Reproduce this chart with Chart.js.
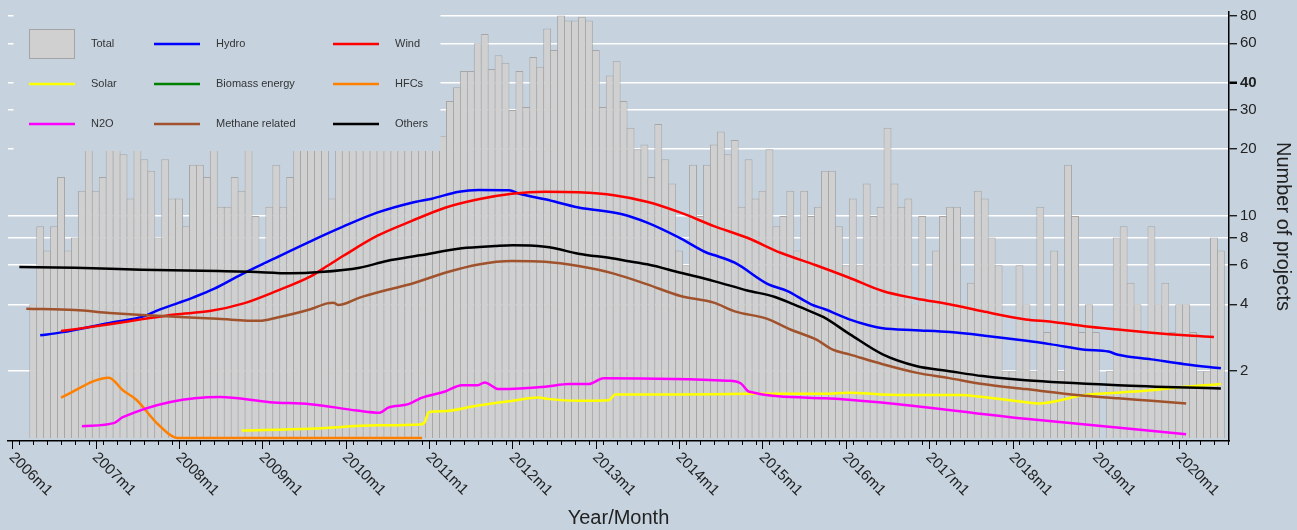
<!DOCTYPE html>
<html><head><meta charset="utf-8">
<script src="https://cdn.jsdelivr.net/npm/chart.js@4.4.1/dist/chart.umd.min.js"></script>
<style>html,body{margin:0;padding:0;background:#c6d3df;overflow:hidden}canvas{display:block}</style>
</head><body>
<canvas id="c" width="1297" height="530"></canvas>
<script>
// ---- data (month index: 0 = 2006m1) ----
const BG = '#c6d3df';
const FONT = '"Liberation Sans", Arial, Helvetica, sans-serif';
const totalStartMonth = 3; // 2006m4
const totalValues = [
  4,9,7,9,15,7,8,13,20,                 // 2006m4-m12
  13,15,22,21,19,12,23,18,16,8,18,12,   // 2007
  12,9,17,17,15,20,11,11,15,13,21,10,   // 2008
  6,11,17,11,15,22,25,20,24,21,12,20,   // 2009
  26,23,21,24,22,28,25,23,27,24,22,20,  // 2010
  20,21,23,33,38,45,45,60,66,46,53,49,  // 2011
  30,45,31,52,47,70,56,80,76,76,79,76,  // 2012
  56,31,43,50,33,25,20,21,15,26,18,14,  // 2013
  7,6,17,10,17,21,24,19,22,11,18,12,    // 2014
  13,20,9,10,13,7,13,10,11,16,16,9,     // 2015
  6,12,6,14,10,11,25,14,11,12,4,10,     // 2016
  4,7,10,11,11,4,5,13,12,8,6,2,         // 2017
  2,6,4,2,11,3,7,2,17,10,3,4,           // 2018
  3,null,2,8,9,5,4,3,9,4,5,3,           // 2019
  4,4,3,2,2,8,7                         // 2020m1-m7
];
const hydroMonths = [4,7,14,19,21,24,26,29,33,38,43,47.6,52.5,57.5,60.4,64.3,67.1,71.5,73,76.7,81.5,87.8,91.4,96.2,100,101,104,108.7,111.6,115,117,120.5,123.4,125.3,130,135,140,146,149.6,154.4,157.8,159.2,164,168.8,174];
const hydroValues = [2.90,2.99,3.30,3.54,3.77,4.07,4.29,4.69,5.46,6.5,7.71,8.95,10.35,11.48,11.97,12.87,13.1,13.06,12.6,11.89,10.93,10.18,9.33,7.93,6.83,6.67,6.16,4.95,4.59,4.0,3.80,3.42,3.21,3.12,3.06,3.0,2.89,2.74,2.64,2.50,2.45,2.37,2.26,2.15,2.06];
const windMonths = [7,14,19,23.4,28.4,33.3,38,43,45.3,47.6,52.5,57.5,62.3,67.1,71.9,76.7,81.5,86.6,91.5,96.2,101,105.8,110.6,115.7,120.5,125.3,130.1,134.9,139.7,145.9,149.6,154.4,159.2,164,168.8,173];
const windValues = [3.03,3.25,3.44,3.60,3.73,4.04,4.59,5.36,5.95,6.6,8.13,9.5,10.9,11.9,12.6,12.87,12.79,12.4,11.56,10.35,9.01,7.98,6.83,6.0,5.27,4.59,4.25,4.0,3.72,3.42,3.34,3.19,3.08,2.98,2.90,2.85];
const solarMonths = [33,43,52.5,58.7,59.3,60,62,67,72,75.8,77,81.5,85.9,86.8,96,106,117,120.5,125,130,136.3,139.7,145.9,147.7,154.4,159.2,164,168.8,174];
const solarValues = [1.08,1.10,1.14,1.15,1.17,1.31,1.32,1.40,1.47,1.52,1.50,1.47,1.48,1.57,1.57,1.58,1.58,1.60,1.57,1.56,1.56,1.53,1.45,1.43,1.56,1.60,1.64,1.70,1.75];
const biomassMonths = [];
const biomassValues = [];
const hfcMonths = [7,13.9,15.9,17.8,21,23.8,59];
const hfcValues = [1.52,1.87,1.64,1.49,1.15,1.0,1.0];
const n2oMonths = [10,14.7,15.9,29.9,37.1,42.9,49.6,52.9,54.1,57,58,59,62.3,64.7,67,68,70,76.7,80.1,83,85.1,102.9,104.9,106,116.9,145.9,169];
const n2oValues = [1.13,1.17,1.24,1.53,1.45,1.42,1.33,1.30,1.37,1.42,1.47,1.52,1.62,1.73,1.73,1.78,1.66,1.70,1.75,1.75,1.86,1.81,1.76,1.62,1.51,1.22,1.04];
const methaneMonths = [2,9,14,18.6,23.4,29.6,35.6,38,42.9,45.3,46.2,46.9,50,53.9,57.5,62.3,67.1,71.9,76.7,81.5,86.6,91.4,96.2,101,104,108.7,112,115.7,118.1,120.5,125.3,130.1,134.9,139.7,145.9,154.4,159.2,164,169];
const methaneValues = [3.82,3.77,3.66,3.58,3.52,3.44,3.37,3.48,3.8,4.04,4.07,3.97,4.29,4.64,4.95,5.55,6.05,6.27,6.22,5.95,5.5,4.92,4.36,4.07,3.72,3.44,3.08,2.78,2.50,2.38,2.15,1.97,1.86,1.75,1.66,1.55,1.51,1.47,1.43];
const othersMonths = [1,9,18.6,29.6,34.2,40,44.3,50,53.9,58.7,64.7,69.5,72,76.7,78.1,81.5,86.3,88.5,91.4,96.2,101,105.8,109.7,112.5,115.4,116.8,120.6,125.3,130.1,134.9,139.7,145.9,159.2,174];
const othersValues = [5.89,5.85,5.73,5.65,5.61,5.52,5.59,5.85,6.27,6.65,7.15,7.32,7.38,7.27,7.15,6.76,6.45,6.27,6.06,5.55,5.09,4.62,4.33,4.0,3.66,3.50,2.93,2.38,2.11,2.0,1.90,1.82,1.73,1.67];

const xTickLabels = ['2006m1','2007m1','2008m1','2009m1','2010m1','2011m1','2012m1','2013m1','2014m1','2015m1','2016m1','2017m1','2018m1','2019m1','2020m1'];
const yTicks = [2,4,6,8,10,20,30,40,60,80];

const seriesColors = {Hydro:'#0000ff', Wind:'#ff0000', Solar:'#ffff00', 'Biomass energy':'#008000', HFCs:'#ff8000', N2O:'#ff00ff', 'Methane related':'#a0522d', Others:'#000000'};
const legendOrder = ['Total','Hydro','Wind','Solar','Biomass energy','HFCs','N2O','Methane related','Others'];

// ---- helpers ----
function labelToMonth(s){ const p = s.split('m'); return (parseInt(p[0])-2006)*12 + (parseInt(p[1])-1); }
function pts(ms, vs){ return ms.map((m,i)=>({x:m, y:vs[i]})); }
function lineDs(label, ms, vs){
  return {type:'line', label, data: pts(ms, vs), borderColor: seriesColors[label], backgroundColor: seriesColors[label],
          borderWidth: 2.5, pointRadius: 0, fill: false, cubicInterpolationMode: 'monotone', order: 1};
}

const bgPlugin = {
  id:'bgFill',
  beforeDraw(chart){ const c=chart.ctx; c.save(); c.fillStyle=BG; c.fillRect(0,0,chart.width,chart.height); c.restore(); }
};

const legendPlugin = {
  id:'boxLegend',
  afterDatasetsDraw(chart){
    const c = chart.ctx;
    c.save();
    c.fillStyle = BG;
    c.fillRect(13.5, 15, 427, 136);
    const symX = [29, 154, 333], txtX = [91, 216, 395], rowY = [44, 84, 124];
    c.font = '11px ' + FONT;
    c.textBaseline = 'middle'; c.textAlign = 'left';
    legendOrder.forEach((name, i) => {
      const col = i % 3, row = Math.floor(i / 3);
      const x = symX[col], y = rowY[row];
      if (name === 'Total') {
        c.fillStyle = '#d0d0d0'; c.fillRect(x, y - 15, 46, 30);
        c.strokeStyle = '#a4a4a4'; c.lineWidth = 1; c.strokeRect(x + 0.5, y - 14.5, 45, 29);
      } else {
        c.strokeStyle = seriesColors[name]; c.lineWidth = 2.5;
        c.beginPath(); c.moveTo(x, y); c.lineTo(x + 46, y); c.stroke();
      }
      c.fillStyle = '#333';
      c.fillText(name, txtX[col], y);
    });
    c.restore();
  }
};

const xAxisPlugin = {
  id:'xTicksRot',
  afterDraw(chart){
    const sx = chart.scales.x, c = chart.ctx, y0 = chart.chartArea.bottom;
    c.save();
    c.strokeStyle = '#000'; c.lineWidth = 1;
    for (let m = 0; m <= 175; m++) {
      let len = 0;
      if (m % 12 === 0) len = 8; else if (m % 2 === 1) len = 4;
      if (!len) continue;
      const px = Math.round(sx.getPixelForValue(m)) + 0.5;
      c.beginPath(); c.moveTo(px, y0); c.lineTo(px, y0 + len); c.stroke();
    }
    c.fillStyle = '#222'; c.font = '15px ' + FONT;
    c.textAlign = 'left'; c.textBaseline = 'middle';
    xTickLabels.forEach(lab => {
      const px = sx.getPixelForValue(labelToMonth(lab));
      c.save(); c.translate(px - 1, y0 + 14); c.rotate(Math.PI / 4); c.fillText(lab, 0, 0); c.restore();
    });
    c.restore();
  }
};

new Chart(document.getElementById('c'), {
  type: 'bar',
  data: {
    datasets: [
      lineDs('Others', othersMonths, othersValues),
      lineDs('Methane related', methaneMonths, methaneValues),
      lineDs('N2O', n2oMonths, n2oValues),
      lineDs('HFCs', hfcMonths, hfcValues),
      lineDs('Biomass energy', biomassMonths, biomassValues),
      lineDs('Solar', solarMonths, solarValues),
      lineDs('Wind', windMonths, windValues),
      lineDs('Hydro', hydroMonths, hydroValues),
      {type:'bar', label:'Total', data: totalValues.map((v,i)=>({x: totalStartMonth + i, y: v})),
       backgroundColor:'#d0d0d0', borderColor:'#a6a6a6', borderWidth:1, borderSkipped:'start',
       barPercentage:1.14, categoryPercentage:1, base:1, order: 20}
    ]
  },
  options: {
    responsive:false, animation:false, devicePixelRatio:1,
    layout:{padding:{left:8, top:10, right:0, bottom:0}},
    plugins:{legend:{display:false}, tooltip:{enabled:false}},
    scales:{
      x:{type:'linear', min:-0.634, max:175.17, offset:false,
         grid:{display:false, offset:false},
         border:{display:true, color:'#000', width:1.5},
         ticks:{display:false},
         title:{display:true, text:'Year/Month', color:'#222', font:{size:20, family:FONT}, padding:{top:0, bottom:0}},
         afterFit(s){ s.height = 89; }},
      y:{type:'logarithmic', position:'right', min:0.969, max:83.0,
         afterBuildTicks(s){ s.ticks = yTicks.map(v=>({value:v})); },
         grid:{color:'#ffffff', lineWidth:1.5, drawTicks:true, tickLength:8, tickColor:'#000',
               tickWidth:(ctx)=> (ctx.tick && ctx.tick.value===40) ? 2.5 : 1.2},
         border:{display:true, color:'#000', width:1.5},
         ticks:{color:'#222', padding:3, autoSkip:false,
                font:(ctx)=>({size:15, family:FONT, weight:(ctx.tick && ctx.tick.value===40)?'bold':'normal'}),
                callback:(v)=>String(v)},
         title:{display:true, text:'Number of projects', color:'#222', font:{size:20, family:FONT}, padding:{top:2, bottom:0}},
         afterFit(s){ s.width = 68; }}
    }
  },
  plugins:[bgPlugin, legendPlugin, xAxisPlugin]
});
</script>
</body></html>
